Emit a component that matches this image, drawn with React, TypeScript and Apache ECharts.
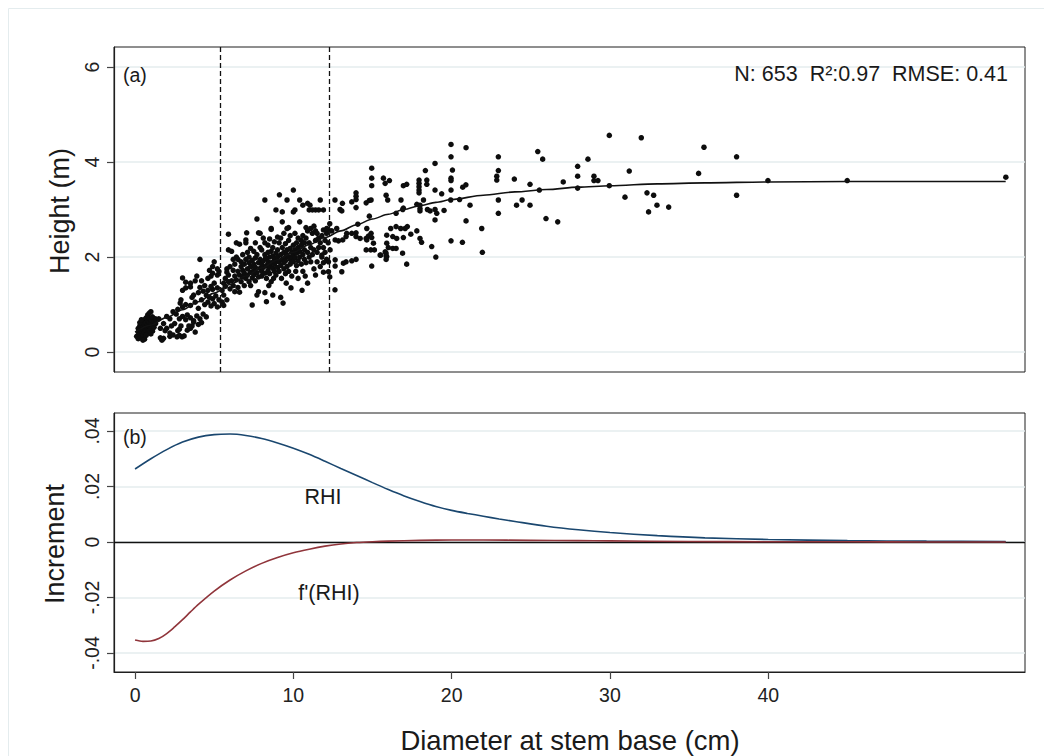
import { useEffect, useRef } from 'react';
import * as echarts from 'echarts';

// ---------- data ----------
const xTicks = [0, 10, 20, 30, 40];
const heightTicks = [0, 2, 4, 6];
const incTicks = [-0.04, -0.02, 0, 0.02, 0.04];
const incTickLabels = ['-.04', '-.02', '0', '.02', '.04'];
const cutPoints = [5.37, 12.27];
const statsText = 'N: 653  R²:0.97  RMSE: 0.41';

// observed trees: [diameter cm, height m]
const obsSmall = [
  [0.1,0.33],[0.2,0.42],[0.2,0.5],[0.3,0.38],[0.3,0.46],[0.3,0.55],[0.4,0.3],[0.4,0.44],[0.4,0.52],[0.4,0.6],
  [0.5,0.36],[0.5,0.48],[0.5,0.56],[0.5,0.64],[0.6,0.27],[0.6,0.41],[0.6,0.5],[0.6,0.58],[0.6,0.68],[0.7,0.45],
  [0.7,0.53],[0.7,0.62],[0.7,0.72],[0.8,0.4],[0.8,0.49],[0.8,0.57],[0.8,0.66],[0.8,0.78],[0.9,0.46],[0.9,0.55],
  [0.9,0.63],[0.9,0.71],[1.0,0.5],[1.0,0.6],[1.0,0.68],[1.0,0.85],[1.1,0.44],[1.1,0.58],[1.1,0.74],[1.2,0.52],
  [1.2,0.64],[1.3,0.6],[1.3,0.7],[0.5,0.25],[0.3,0.62],[0.7,0.35],[1.0,0.38],[0.2,0.28],[0.4,0.68],[0.9,0.82],
];
const obsYoung = [
  [1.7,0.25],[1.8,0.29],[1.6,0.3],[2.2,0.33],[2.2,0.4],[2.4,0.36],[2.65,0.32],[2.8,0.35],[2.97,0.32],[3.1,0.34],
  [2.8,0.48],[2.7,0.45],[2.9,0.55],[3.3,0.46],[3.5,0.5],[3.6,0.55],[3.7,0.63],[3.4,0.55],[3.8,0.42],[4.0,0.58],[4.2,0.62],
  [2.8,0.7],[3.0,0.75],[3.2,0.68],[3.3,0.78],[3.5,0.72],[3.7,0.66],[3.9,0.76],[4.1,0.7],[4.3,0.8],[4.5,0.74],
  [3.0,0.95],[3.2,1.0],[3.5,0.98],[3.8,1.05],[4.0,0.92],[4.2,1.1],[4.4,1.0],[4.6,1.05],[4.8,0.97],[4.9,1.12],
  [5.0,1.02],[5.2,0.95],[5.3,1.1],[2.85,1.03],[2.9,1.1],[4.7,1.15],[4.5,1.2],[5.1,1.18],[3.6,1.15],[3.7,1.2],
  [4.0,1.25],[4.3,1.28],[4.6,1.3],[4.9,1.32],[5.2,1.35],[5.0,1.45],[4.8,1.38],[4.4,1.4],[4.1,1.36],[3.0,1.3],
  [3.2,1.35],[3.5,1.37],[3.0,1.56],[3.2,1.47],[3.5,1.45],[3.8,1.5],[4.2,1.5],[4.6,1.55],[4.8,1.6],[4.9,1.66],
  [4.9,1.8],[4.7,1.72],[5.2,1.62],[5.3,1.7],[5.0,1.9],[5.2,1.75],[4.1,1.95],[3.9,1.6],[2.5,0.6],[2.3,0.55],
  [2.0,0.5],[1.9,0.45],[2.6,0.8],[2.4,0.85],[2.2,0.7],[1.8,0.6],[1.6,0.5],[1.5,0.7],[2.0,0.75],[2.7,0.9],
];
const obsMiddle = [
  [5.5,1.05],[5.5,1.3],[5.6,1.45],[5.6,1.2],[5.7,1.55],[5.7,1.38],[5.8,1.75],[5.8,1.1],[5.9,1.62],[5.9,1.48],
  [5.9,2.15],[5.9,2.48],[6.0,1.33],[6.0,1.8],[5.6,0.98],[5.8,1.68],
  [6.1,1.5],[6.1,2.12],[6.2,1.72],[6.2,1.4],[6.3,1.6],[6.3,1.85],[6.3,1.27],[6.4,2.0],[6.4,1.52],[6.5,1.7],
  [6.5,1.36],[6.5,1.95],[6.6,1.26],[6.6,1.62],[6.6,2.27],[6.7,1.8],[6.7,1.48],[6.7,1.9],[6.8,1.58],[6.8,2.05],
  [6.8,1.72],[6.9,1.4],[6.9,1.85],[6.9,1.66],[7.0,2.36],[7.0,1.55],[7.0,1.95],[7.0,2.3],[7.05,2.51],[6.4,2.3],[6.2,1.95],
  [7.1,1.75],[7.1,1.62],[7.1,2.1],[7.2,1.48],[7.2,1.88],[7.2,2.0],[7.3,1.68],[7.3,2.18],[7.3,1.8],[7.4,0.99],
  [7.4,1.56],[7.4,1.93],[7.5,1.72],[7.5,2.12],[7.5,1.62],[7.5,1.85],[7.6,1.98],[7.6,1.5],[7.6,1.78],[7.7,2.8],
  [7.7,1.2],[7.7,1.67],[7.7,2.05],[7.8,1.88],[7.8,2.51],[7.8,1.58],[7.8,1.27],[7.9,1.76],[7.9,2.2],[7.9,1.95],
  [7.9,2.5],[8.0,1.7],[8.0,1.85],[8.0,2.15],[8.0,1.6],[7.3,1.4],[7.6,2.3],
  [8.1,1.92],[8.1,1.78],[8.1,2.4],[8.2,3.2],[8.2,2.05],[8.2,1.66],[8.2,1.25],[8.2,2.3],[8.3,1.82],[8.3,1.97],
  [8.3,1.55],[8.3,1.06],[8.4,2.1],[8.4,1.72],[8.4,1.9],[8.4,2.25],[8.5,1.8],[8.5,2.0],[8.5,1.65],[8.5,2.38],
  [8.6,2.6],[8.6,2.58],[8.6,1.88],[8.6,2.12],[8.6,1.48],[8.7,1.76],[8.7,2.02],[8.7,1.2],[8.7,2.2],[8.8,1.95],
  [8.8,1.7],[8.8,2.32],[8.8,1.85],[8.9,2.99],[8.9,2.08],[8.9,1.62],[8.9,1.9],[9.0,2.0],[9.0,1.78],[9.0,2.15],
  [9.0,2.42],[8.25,1.98],[8.45,1.4],[8.75,1.55],
  [9.1,1.9],[9.1,2.3],[9.1,1.7],[9.12,3.31],[9.2,2.05],[9.2,1.82],[9.2,2.4],[9.2,1.15],[9.3,2.74],[9.3,2.95],
  [9.3,1.95],[9.3,2.2],[9.35,1.03],[9.4,1.75],[9.4,2.1],[9.4,1.88],[9.4,2.5],[9.5,2.0],[9.5,2.28],[9.5,1.65],
  [9.5,1.92],[9.6,2.6],[9.6,2.15],[9.6,1.8],[9.6,2.05],[9.6,3.2],[9.7,2.0],[9.7,2.35],[9.7,1.7],[9.7,2.62],
  [9.8,1.95],[9.8,2.18],[9.8,1.85],[9.8,2.45],[9.9,2.1],[9.9,2.0],[9.9,1.6],[10.0,3.41],[10.0,2.95],[10.0,2.25],
  [10.0,1.9],[10.0,2.05],[9.25,1.55],[9.55,1.45],[9.85,1.35],
  [10.1,2.99],[10.1,2.15],[10.1,1.98],[10.1,2.5],[10.2,2.3],[10.2,1.82],[10.2,2.08],[10.3,2.4],[10.3,1.92],[10.3,2.2],
  [10.3,1.55],[10.4,3.2],[10.4,2.74],[10.4,2.12],[10.4,2.0],[10.5,2.35],[10.5,1.85],[10.5,2.25],[10.6,3.09],[10.6,2.05],
  [10.6,2.45],[10.6,1.7],[10.7,2.3],[10.7,2.15],[10.7,1.95],[10.8,2.62],[10.8,2.4],[10.8,1.88],[10.9,3.13],[10.9,2.55],
  [10.9,2.1],[10.9,1.45],[11.0,2.99],[11.0,2.0],[11.0,2.3],[10.15,1.7],[10.55,1.3],[10.75,1.6],
  [11.05,3.09],[11.1,2.6],[11.1,2.2],[11.1,1.9],[11.2,2.99],[11.2,2.5],[11.2,2.05],[11.3,2.65],[11.3,2.15],[11.3,1.75],
  [11.4,2.99],[11.4,2.55],[11.4,2.35],[11.4,1.62],[11.5,2.5],[11.5,2.1],[11.5,1.9],[11.6,2.99],[11.6,2.4],[11.6,2.2],
  [11.7,3.2],[11.7,2.3],[11.7,1.8],[11.8,2.45],[11.8,2.0],[11.9,2.99],[11.9,2.57],[11.9,2.2],[11.9,1.68],[12.0,2.35],
  [12.0,2.1],[12.1,2.5],[12.1,1.95],[12.2,2.3],[12.3,1.58],[12.3,2.55],[12.3,2.7],
];
const obsLarge = [
  [14.07,2.69],[13.96,2.51],[13.96,2.43],[14.22,2.39],[13.69,2.5],[13.37,2.5],[13.33,2.43],[13.12,2.36],[12.64,2.36],[12.85,2.34],
  [12.11,2.6],[12.43,2.55],[12.74,2.6],[12.32,2.15],[11.8,2.04],[11.9,1.88],[12.22,1.9],[12.64,1.94],[12.64,1.81],[12.22,1.69],
  [13.06,1.69],[13.16,1.87],[13.33,1.9],[13.69,1.92],[13.96,1.95],[14.6,2.39],[14.64,2.6],[14.74,2.44],[14.91,2.5],[14.95,2.41],
  [14.64,2.36],[14.6,2.15],[14.89,2.15],[15.12,2.15],[15.06,2.29],[15.48,2.04],[15.8,2.11],[15.9,2.01],[16.28,2.18],[16.49,2.18],
  [14.95,1.81],[14.8,2.86],[15.9,2.46],[15.9,2.29],[16.0,2.2],[15.86,2.08],[15.86,2.02],[15.86,1.95],[15.52,2.04],[17.8,2.55],
  [17.42,2.48],[17.06,2.6],[17.2,2.64],[16.78,2.6],[16.49,2.64],[16.15,2.6],[16.28,2.43],[16.53,2.39],[16.95,2.41],[17.16,1.85],
  [16.9,2.08],
  [12.63,3.2],[12.63,1.31],[12.95,3.0],[13.06,2.97],[13.1,3.13],[13.69,3.16],[13.96,3.35],[13.96,3.28],[13.96,3.21],[13.96,3.04],
  [14.6,3.14],[14.91,3.2],[14.8,3.19],[14.95,3.87],[14.95,3.66],[14.95,3.5],[15.69,3.66],[15.8,3.55],[15.86,3.3],[15.96,3.2],
  [16.07,3.61],[16.49,2.92],[16.8,3.2],[16.91,3.0],[16.95,3.03],[16.95,3.5],[17.16,3.53],[18.22,3.2],[17.8,3.11],[18.0,3.09],
  [18.0,3.02],[18.0,2.97],[17.94,3.62],[17.94,3.55],[17.94,3.48],[17.94,3.41],[17.94,3.35],[18.34,3.82],[18.43,3.62],[18.43,3.53],
  [18.47,3.0],[18.64,2.97],[18.95,3.0],[19.06,2.92],[19.52,2.98],[18.95,3.97],[18.95,3.41],[18.95,2.78],[19.0,2.0],[18.74,2.22],
  [19.37,3.33],[19.94,3.2],[19.96,4.37],[19.96,4.11],[19.96,3.66],[19.96,3.61],[19.96,3.41],[19.96,2.34],[20.05,3.83],[20.5,3.21],
  [20.68,2.31],[20.7,3.47],[20.9,3.52],[20.91,4.3],[20.91,2.76],[21.16,3.09],[21.9,2.6],[21.94,2.1],[22.85,3.7],[22.85,3.62],
  [22.95,4.11],[22.95,3.82],[22.95,3.2],[22.95,2.92],[23.96,3.64],[24.1,3.09],[24.45,3.2],[24.95,3.53],[24.95,3.09],[25.44,4.22],
  [25.54,3.41],[25.75,4.06],[25.96,2.81],[26.7,2.74],[18.0,2.39],[18.1,2.31],
];
const obsOld = [
  [27.05,3.58],[27.96,3.91],[27.96,3.7],[27.96,3.45],[28.61,4.06],[28.99,3.7],[28.99,3.61],[29.24,3.61],[29.96,4.56],[29.96,3.5],
  [30.95,3.26],[31.22,3.81],[31.98,4.51],[32.34,3.35],[32.44,2.95],[32.76,3.3],[32.97,3.09],[33.71,3.05],[35.6,3.76],[35.94,4.31],
  [38.0,4.11],[38.0,3.3],[39.98,3.61],[44.99,3.61],[55.01,3.68],
];

// fitted height curve
const fitD = [0,1,2,3,4,5,6,7,8,9,10,11,12,13,14,15,16,17,18,19,20,22,24,26,28,30,33,36,40,45,50,55];
const fitH = [0.42,0.57,0.73,0.89,1.06,1.24,1.42,1.6,1.77,1.94,2.1,2.26,2.41,2.55,2.68,2.8,2.9,3.0,3.08,3.15,3.21,3.3,3.37,3.42,3.47,3.5,3.54,3.56,3.58,3.59,3.59,3.59];

// relative height increment (RHI)
const rhiD = [0,1,2,3,4,5,6,7,8,9,10,11,12,13,14,15,16,17,18,19,20,21,22,23,24,26,28,30,33,36,40,45,50,55];
const rhiV = [0.0263,0.0300,0.0333,0.0360,0.0378,0.0387,0.0389,0.0384,0.0373,0.0357,0.0338,0.0316,0.0291,0.0265,0.0240,0.0214,0.0189,0.0166,0.0146,0.0128,0.0114,0.0103,0.0093,0.0083,0.0074,0.0057,0.0044,0.0034,0.0023,0.0015,0.0009,0.0005,0.0003,0.0002];

// derivative f'(RHI)
const dRhiD = [0,0.5,1,1.5,2,2.5,3,3.5,4,5,6,7,8,9,10,11,12,13,14,15,16,18,20,22,25,28,30,35,40,45,50,55];
const dRhiV = [-0.0353,-0.0358,-0.0357,-0.0348,-0.0330,-0.0306,-0.0280,-0.0252,-0.0225,-0.0177,-0.0137,-0.0104,-0.0077,-0.0056,-0.0039,-0.0026,-0.0015,-0.0007,-0.0002,0.0001,0.0003,0.0006,0.0007,0.0007,0.0006,0.0005,0.0004,0.0002,0.0001,0.0001,0.0,0.0];

// ---------- styling ----------
const FONT = '"Liberation Sans", Arial, Helvetica, sans-serif';
const INK = '#1e1e1e';
const GRIDC = '#e4ecee';
const X_MIN = -1.33;
const X_MAX = 56.22;

const zip = (xs: number[], ys: number[]) => xs.map((x, i) => [x, ys[i]]);

function buildOption() {
  const scatter = [...obsSmall, ...obsYoung, ...obsMiddle, ...obsLarge, ...obsOld];
  const gridBase = { left: 114, width: 911, show: true, borderColor: INK, borderWidth: 1, containLabel: false };
  const yAxisBase = {
    type: 'value',
    axisLine: { show: true, onZero: false, lineStyle: { color: INK, width: 1.2 } },
    axisTick: { show: true, length: 7, lineStyle: { color: '#444', width: 1.2 } },
    splitLine: { show: true, lineStyle: { color: GRIDC, width: 1.5 } },
  };
  const txt = (text: string, x: number, y: number, size: number, align: string, rotation = 0) => ({
    type: 'text', x, y, rotation, z: 100, silent: true,
    style: { text, fontSize: size, fontFamily: FONT, fill: '#1a1a1a', align, verticalAlign: 'middle' },
  });
  return {
    animation: false,
    backgroundColor: '#ffffff',
    grid: [
      { ...gridBase, top: 47, height: 325 },
      { ...gridBase, top: 413, height: 259 },
    ],
    xAxis: [
      {
        type: 'value', gridIndex: 0, min: X_MIN, max: X_MAX,
        axisLine: { show: false, onZero: false }, axisTick: { show: false }, axisLabel: { show: false }, splitLine: { show: false },
      },
      {
        type: 'value', gridIndex: 1, min: X_MIN, max: X_MAX,
        axisLine: { show: true, onZero: false, lineStyle: { color: INK, width: 1.2 } },
        axisTick: { show: true, length: 7, customValues: xTicks, lineStyle: { color: '#444', width: 1.2 } },
        axisLabel: { show: true, customValues: xTicks, fontSize: 19.5, fontFamily: FONT, color: '#222', margin: 13 },
        splitLine: { show: false },
      },
    ],
    yAxis: [
      {
        ...yAxisBase, gridIndex: 0, min: -0.42, max: 6.42,
        axisTick: { ...yAxisBase.axisTick, customValues: heightTicks },
        axisLabel: { show: true, customValues: heightTicks, rotate: 90, fontSize: 19.5, fontFamily: FONT, color: '#222', margin: 12 },
      },
      {
        ...yAxisBase, gridIndex: 1, min: -0.04685, max: 0.04649,
        axisTick: { ...yAxisBase.axisTick, customValues: incTicks },
        axisLabel: {
          show: true, customValues: incTicks, rotate: 90, fontSize: 19.5, fontFamily: FONT, color: '#222', margin: 12,
          formatter: (v: number) => {
            const i = incTicks.findIndex((t) => Math.abs(t - v) < 1e-9);
            return i >= 0 ? incTickLabels[i] : String(v);
          },
        },
      },
    ],
    series: [
      {
        type: 'scatter', xAxisIndex: 0, yAxisIndex: 0, data: scatter, symbol: 'circle', symbolSize: 5.5,
        itemStyle: { color: '#0d0d0d', opacity: 1 }, silent: true, z: 3,
        markLine: {
          silent: true, symbol: 'none', label: { show: false },
          lineStyle: { color: '#111', type: [5, 3], width: 1.3 },
          data: cutPoints.map((c) => ({ xAxis: c })),
        },
      },
      {
        type: 'line', xAxisIndex: 0, yAxisIndex: 0, data: zip(fitD, fitH), showSymbol: false,
        smooth: 0.3, smoothMonotone: 'x', lineStyle: { color: '#111', width: 1.6 }, z: 4,
      },
      {
        type: 'line', xAxisIndex: 1, yAxisIndex: 1, data: zip(rhiD, rhiV), showSymbol: false,
        smooth: 0.3, lineStyle: { color: '#1a476f', width: 1.6 }, z: 4,
        markLine: {
          silent: true, symbol: 'none', label: { show: false },
          lineStyle: { color: '#111', type: 'solid', width: 1.4 },
          data: [{ yAxis: 0 }],
        },
      },
      {
        type: 'line', xAxisIndex: 1, yAxisIndex: 1, data: zip(dRhiD, dRhiV), showSymbol: false,
        smooth: 0.3, lineStyle: { color: '#90353b', width: 1.6 }, z: 5,
      },
    ],
    graphic: [
      { type: 'rect', silent: true, z: -10, shape: { x: 8.5, y: 8.5, width: 1045, height: 760 }, style: { fill: 'none', stroke: GRIDC, lineWidth: 1 } },
      txt(statsText, 1008, 73.5, 21.5, 'right'),
      txt('(a)', 123, 75, 19.5, 'left'),
      txt('(b)', 123, 437, 19.5, 'left'),
      txt('RHI', 323, 497, 21.5, 'center'),
      txt("f'(RHI)", 329, 593, 21.5, 'center'),
      txt('Height (m)', 60, 211, 27, 'center', Math.PI / 2),
      txt('Increment', 55, 544, 27, 'center', Math.PI / 2),
      txt('Diameter at stem base (cm)', 570, 740, 27.5, 'center'),
    ],
  };
}

export default function App() {
  const ref = useRef<HTMLDivElement>(null);
  useEffect(() => {
    if (!ref.current) return;
    const chart = echarts.init(ref.current, null, { renderer: 'svg' });
    chart.setOption(buildOption() as any);
    return () => chart.dispose();
  }, []);
  return (
    <div
      ref={ref}
      style={{ position: 'absolute', left: 0, top: 0, width: 1044, height: 756, background: '#ffffff' }}
    />
  );
}
